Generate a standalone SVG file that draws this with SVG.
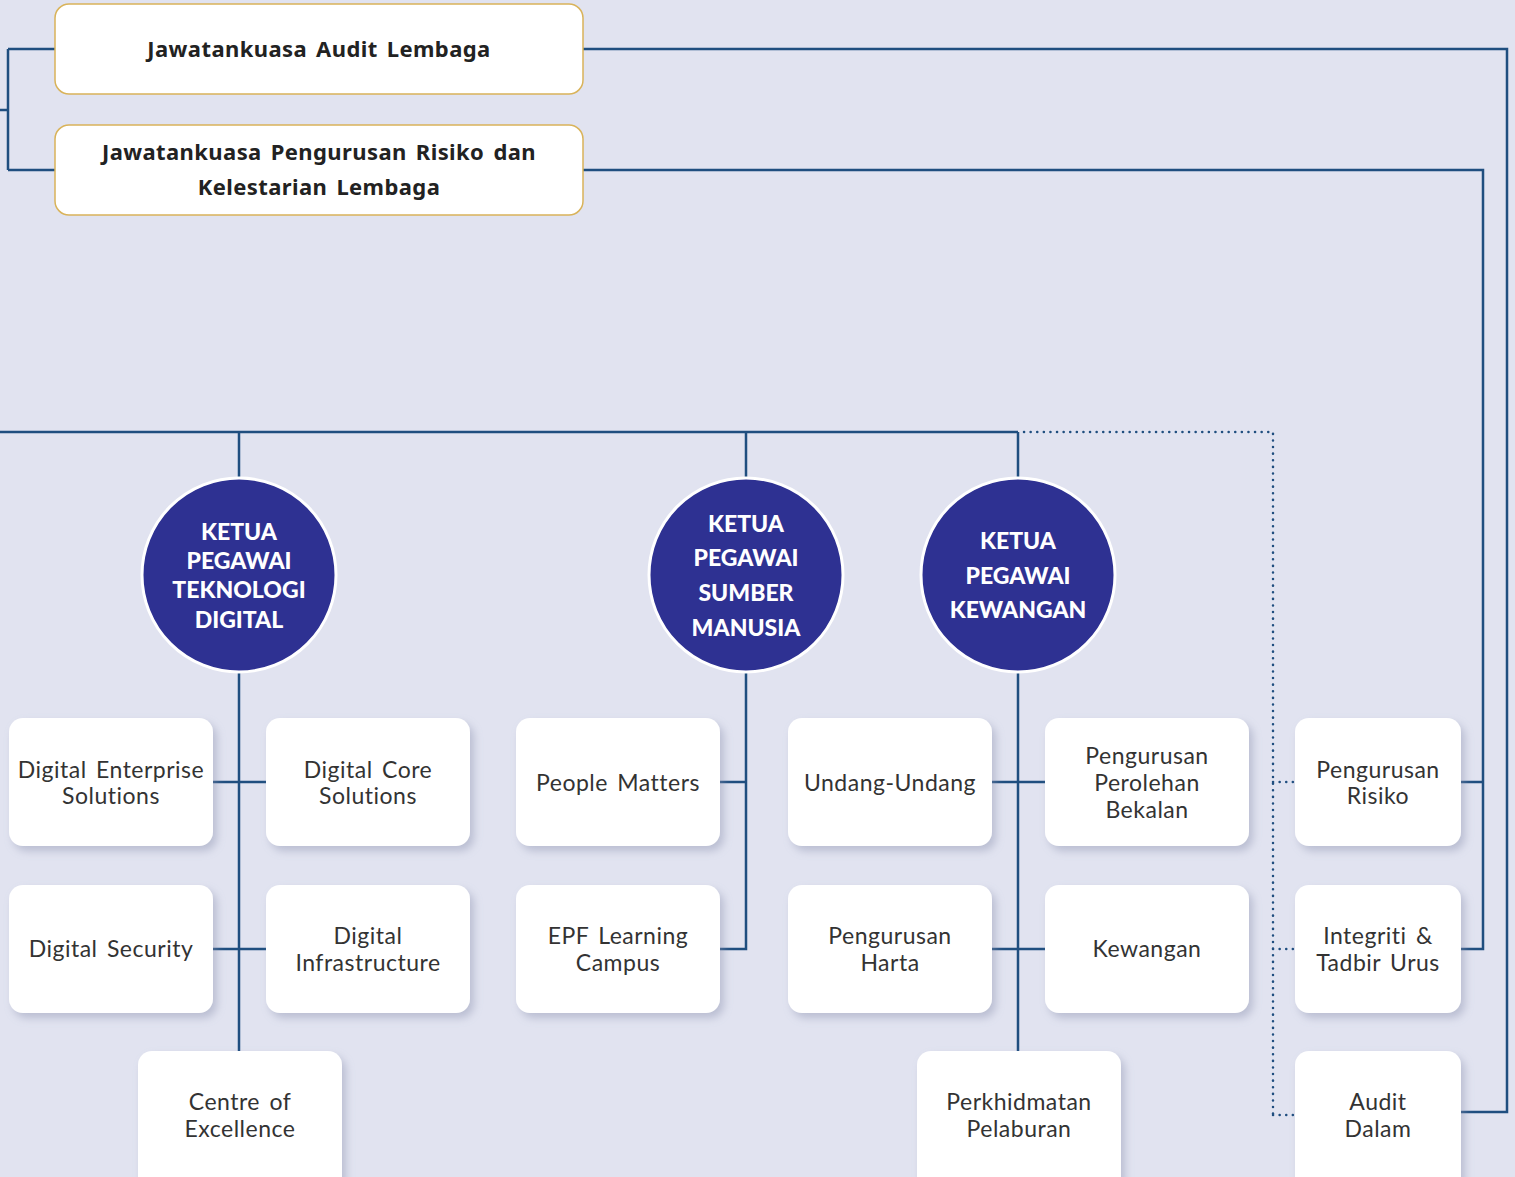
<svg xmlns="http://www.w3.org/2000/svg" width="1515" height="1177" viewBox="0 0 1515 1177">
<defs>
<filter id="sh" x="-10%" y="-10%" width="130%" height="130%">
<feDropShadow dx="4" dy="5" stdDeviation="4" flood-color="#8a90ad" flood-opacity="0.45"/>
</filter>
<style>
.ln{fill:none;stroke:#1f4e7f;stroke-width:2.5}
.dot{fill:none;stroke:#1f4e7f;stroke-width:2.5;stroke-dasharray:0.1 6.5;stroke-linecap:round}
.cm{fill:#ffffff;stroke:#d9b35a;stroke-width:1.5}
.cmt{font-family:"Noto Sans","Liberation Sans",sans-serif;font-weight:700;font-size:22px;fill:#222222;text-anchor:middle;letter-spacing:0.4px;word-spacing:3px}
.circ{fill:#2e3192;stroke:#ffffff;stroke-width:3}
.ct{font-family:Lato,"Liberation Sans",sans-serif;font-weight:900;font-size:23px;fill:#ffffff;text-anchor:middle}
.bx{fill:#ffffff;filter:url(#sh)}
.bt{font-family:Lato,"Liberation Sans",sans-serif;font-weight:400;font-size:23px;fill:#333333;text-anchor:middle;letter-spacing:0.5px;word-spacing:3px}
</style>
</defs>
<rect width="1515" height="1177" fill="#e1e3f0"/>

<g id="connectors">
<path class="ln" d="M0 110 H8 M8 49 V170 M8 49 H55 M8 170 H55"/>
<path class="ln" d="M583 49 H1507 V1112 H1461"/>
<path class="ln" d="M583 170 H1483 V949 H1461 M1483 782 H1461"/>
<path class="ln" d="M0 432 H1018 M239 432 V478 M746 432 V478 M1018 432 V478"/>
<path class="dot" d="M1024 432 H1273 V1115 M1273 782 H1295 M1273 949 H1295 M1273 1115 H1295"/>
<path class="ln" d="M239 672 V1051 M213 782 H266 M213 949 H266"/>
<path class="ln" d="M746 672 V949 H720 M746 782 H720"/>
<path class="ln" d="M1018 672 V1051 M991 782 H1045 M991 949 H1045"/>
</g>

<g id="committee-audit">
<rect class="cm" x="55" y="4" width="528" height="90" rx="14"/>
<text class="cmt" x="319" y="57">Jawatankuasa Audit Lembaga</text>
</g>
<g id="committee-risk">
<rect class="cm" x="55" y="125" width="528" height="90" rx="14"/>
<text class="cmt" x="319" y="160">Jawatankuasa Pengurusan Risiko dan</text>
<text class="cmt" x="319" y="195">Kelestarian Lembaga</text>
</g>

<g id="ceo-digital">
<circle class="circ" cx="239" cy="575" r="97"/>
<text class="ct" x="239" y="540">KETUA</text>
<text class="ct" x="239" y="569">PEGAWAI</text>
<text class="ct" x="239" y="598">TEKNOLOGI</text>
<text class="ct" x="239" y="628">DIGITAL</text>
</g>
<g id="ceo-hr">
<circle class="circ" cx="746" cy="575" r="97"/>
<text class="ct" x="746" y="532">KETUA</text>
<text class="ct" x="746" y="566">PEGAWAI</text>
<text class="ct" x="746" y="601">SUMBER</text>
<text class="ct" x="746" y="636">MANUSIA</text>
</g>
<g id="ceo-finance">
<circle class="circ" cx="1018" cy="575" r="97"/>
<text class="ct" x="1018" y="549">KETUA</text>
<text class="ct" x="1018" y="584">PEGAWAI</text>
<text class="ct" x="1018" y="618">KEWANGAN</text>
</g>

<g id="digital-enterprise">
<rect class="bx" x="9" y="718" width="204" height="128" rx="14"/>
<text class="bt" x="111" y="778">Digital Enterprise</text>
<text class="bt" x="111" y="804">Solutions</text>
</g>
<g id="digital-core">
<rect class="bx" x="266" y="718" width="204" height="128" rx="14"/>
<text class="bt" x="368" y="778">Digital Core</text>
<text class="bt" x="368" y="804">Solutions</text>
</g>
<g id="digital-security">
<rect class="bx" x="9" y="885" width="204" height="128" rx="14"/>
<text class="bt" x="111" y="957">Digital Security</text>
</g>
<g id="digital-infrastructure">
<rect class="bx" x="266" y="885" width="204" height="128" rx="14"/>
<text class="bt" x="368" y="944">Digital</text>
<text class="bt" x="368" y="971">Infrastructure</text>
</g>
<g id="centre-excellence">
<rect class="bx" x="138" y="1051" width="204" height="140" rx="14"/>
<text class="bt" x="240" y="1110">Centre of</text>
<text class="bt" x="240" y="1137">Excellence</text>
</g>

<g id="people-matters">
<rect class="bx" x="516" y="718" width="204" height="128" rx="14"/>
<text class="bt" x="618" y="791">People Matters</text>
</g>
<g id="epf-learning">
<rect class="bx" x="516" y="885" width="204" height="128" rx="14"/>
<text class="bt" x="618" y="944">EPF Learning</text>
<text class="bt" x="618" y="971">Campus</text>
</g>

<g id="undang">
<rect class="bx" x="788" y="718" width="204" height="128" rx="14"/>
<text class="bt" x="890" y="791">Undang-Undang</text>
</g>
<g id="perolehan">
<rect class="bx" x="1045" y="718" width="204" height="128" rx="14"/>
<text class="bt" x="1147" y="764">Pengurusan</text>
<text class="bt" x="1147" y="791">Perolehan</text>
<text class="bt" x="1147" y="818">Bekalan</text>
</g>
<g id="harta">
<rect class="bx" x="788" y="885" width="204" height="128" rx="14"/>
<text class="bt" x="890" y="944">Pengurusan</text>
<text class="bt" x="890" y="971">Harta</text>
</g>
<g id="kewangan">
<rect class="bx" x="1045" y="885" width="204" height="128" rx="14"/>
<text class="bt" x="1147" y="957">Kewangan</text>
</g>
<g id="pelaburan">
<rect class="bx" x="917" y="1051" width="204" height="140" rx="14"/>
<text class="bt" x="1019" y="1110">Perkhidmatan</text>
<text class="bt" x="1019" y="1137">Pelaburan</text>
</g>

<g id="risiko">
<rect class="bx" x="1295" y="718" width="166" height="128" rx="14"/>
<text class="bt" x="1378" y="778">Pengurusan</text>
<text class="bt" x="1378" y="804">Risiko</text>
</g>
<g id="integriti">
<rect class="bx" x="1295" y="885" width="166" height="128" rx="14"/>
<text class="bt" x="1378" y="944">Integriti &amp;</text>
<text class="bt" x="1378" y="971">Tadbir Urus</text>
</g>
<g id="audit-dalam">
<rect class="bx" x="1295" y="1051" width="166" height="140" rx="14"/>
<text class="bt" x="1378" y="1110">Audit</text>
<text class="bt" x="1378" y="1137">Dalam</text>
</g>
</svg>
